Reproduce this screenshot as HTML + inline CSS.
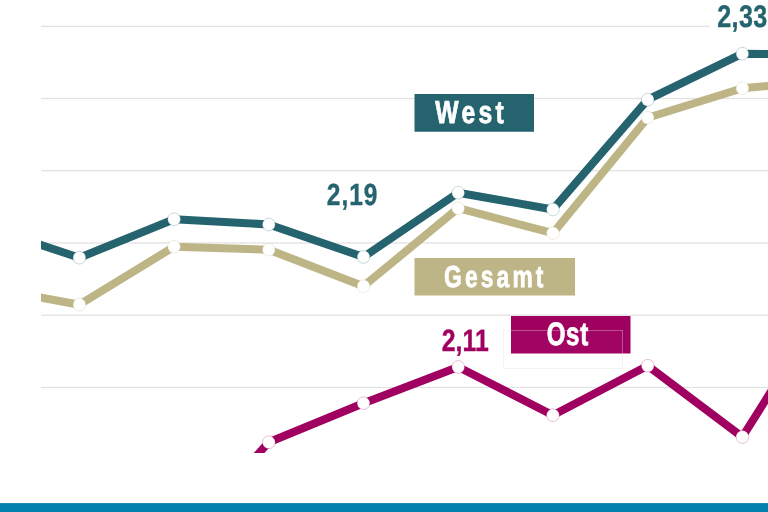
<!DOCTYPE html>
<html lang="de">
<head>
<meta charset="utf-8">
<title>Chart</title>
<style>
html,body{margin:0;padding:0;background:#fff;}
body{width:768px;height:512px;overflow:hidden;}
svg{display:block;}
text{font-family:"Liberation Sans",sans-serif;font-weight:bold;text-rendering:geometricPrecision;}
</style>
</head>
<body>
<svg width="768" height="512" viewBox="0 0 768 512">
<defs><clipPath id="plot"><rect x="41" y="0" width="727" height="453"/></clipPath></defs>
<rect width="768" height="512" fill="#fff"/>
<rect x="41" y="25.65" width="727" height="1.3" fill="#e2e2e2"/>
<rect x="41" y="97.85" width="727" height="1.3" fill="#e2e2e2"/>
<rect x="41" y="170.05" width="727" height="1.3" fill="#e2e2e2"/>
<rect x="41" y="242.35" width="727" height="1.3" fill="#e2e2e2"/>
<rect x="41" y="314.55" width="727" height="1.3" fill="#e2e2e2"/>
<rect x="41" y="386.85" width="727" height="1.3" fill="#e2e2e2"/>
<rect x="709.4" y="0" width="59" height="34" fill="#fff"/>
<g clip-path="url(#plot)" fill="none" stroke-width="8" stroke-linejoin="round">
<polyline points="-15.3,287.30 79.4,304.70 174.1,246.70 268.8,249.70 363.5,286.20 458.2,208.20 552.9,233.20 647.7,117.70 742.4,88.20 837.1,79.70" stroke="#bdb585"/>
<polyline points="-15.3,226.50 79.4,257.70 174.1,219.20 268.8,224.45 363.5,256.95 458.2,192.70 552.9,209.45 647.7,99.70 742.4,53.70 837.1,55.20" stroke="#25646f"/>
<polyline points="174.1,547.70 268.8,442.20 363.5,403.20 458.2,366.95 552.9,415.20 647.7,365.70 742.4,436.95 837.1,286.70" stroke="#a00060"/>
</g>
<g>
<circle cx="79.4" cy="304.70" r="6.35" fill="#fff" stroke="#bdb585" stroke-opacity=".42" stroke-width=".6"/>
<circle cx="174.1" cy="246.70" r="6.35" fill="#fff" stroke="#bdb585" stroke-opacity=".42" stroke-width=".6"/>
<circle cx="268.8" cy="249.70" r="6.35" fill="#fff" stroke="#bdb585" stroke-opacity=".42" stroke-width=".6"/>
<circle cx="363.5" cy="286.20" r="6.35" fill="#fff" stroke="#bdb585" stroke-opacity=".42" stroke-width=".6"/>
<circle cx="458.2" cy="208.20" r="6.35" fill="#fff" stroke="#bdb585" stroke-opacity=".42" stroke-width=".6"/>
<circle cx="552.9" cy="233.20" r="6.35" fill="#fff" stroke="#bdb585" stroke-opacity=".42" stroke-width=".6"/>
<circle cx="647.7" cy="117.70" r="6.35" fill="#fff" stroke="#bdb585" stroke-opacity=".42" stroke-width=".6"/>
<circle cx="742.4" cy="88.20" r="6.35" fill="#fff" stroke="#bdb585" stroke-opacity=".42" stroke-width=".6"/>
<circle cx="79.4" cy="257.70" r="6.35" fill="#fff" stroke="#25646f" stroke-opacity=".42" stroke-width=".6"/>
<circle cx="174.1" cy="219.20" r="6.35" fill="#fff" stroke="#25646f" stroke-opacity=".42" stroke-width=".6"/>
<circle cx="268.8" cy="224.45" r="6.35" fill="#fff" stroke="#25646f" stroke-opacity=".42" stroke-width=".6"/>
<circle cx="363.5" cy="256.95" r="6.35" fill="#fff" stroke="#25646f" stroke-opacity=".42" stroke-width=".6"/>
<circle cx="458.2" cy="192.70" r="6.35" fill="#fff" stroke="#25646f" stroke-opacity=".42" stroke-width=".6"/>
<circle cx="552.9" cy="209.45" r="6.35" fill="#fff" stroke="#25646f" stroke-opacity=".42" stroke-width=".6"/>
<circle cx="647.7" cy="99.70" r="6.35" fill="#fff" stroke="#25646f" stroke-opacity=".42" stroke-width=".6"/>
<circle cx="742.4" cy="53.70" r="6.35" fill="#fff" stroke="#25646f" stroke-opacity=".42" stroke-width=".6"/>
<circle cx="268.8" cy="442.20" r="6.35" fill="#fff" stroke="#a00060" stroke-opacity=".42" stroke-width=".6"/>
<circle cx="363.5" cy="403.20" r="6.35" fill="#fff" stroke="#a00060" stroke-opacity=".42" stroke-width=".6"/>
<circle cx="458.2" cy="366.95" r="6.35" fill="#fff" stroke="#a00060" stroke-opacity=".42" stroke-width=".6"/>
<circle cx="552.9" cy="415.20" r="6.35" fill="#fff" stroke="#a00060" stroke-opacity=".42" stroke-width=".6"/>
<circle cx="647.7" cy="365.70" r="6.35" fill="#fff" stroke="#a00060" stroke-opacity=".42" stroke-width=".6"/>
<circle cx="742.4" cy="436.95" r="6.35" fill="#fff" stroke="#a00060" stroke-opacity=".42" stroke-width=".6"/>
</g>
<rect x="414.5" y="94" width="119.5" height="37.75" fill="#25646f"/>
<rect x="414.5" y="258" width="160.5" height="37.5" fill="#bdb585"/>
<rect x="511" y="316" width="119.5" height="37.5" fill="#a00060"/>
<rect x="503.4" y="330.4" width="119.3" height="37.9" fill="#fff" fill-opacity=".015" stroke="#dedede" stroke-opacity=".6" stroke-width=".6"/>
<g opacity=".999">
<text transform="translate(435.35,123.15) scale(0.78,1)" font-size="31.64" letter-spacing="4.17" fill="#fff" stroke="#fff" stroke-width="0.8">West</text>
<text transform="translate(444.05,286.80) scale(0.75,1)" font-size="30.39" letter-spacing="4.20" fill="#fff" stroke="#fff" stroke-width="0.8">Gesamt</text>
<text transform="translate(546.65,345.30) scale(0.74,1)" font-size="32.49" letter-spacing="1.01" fill="#fff" stroke="#fff" stroke-width="0.8">Ost</text>
<text transform="translate(326.75,205.25) scale(0.8,1)" font-size="30.66" letter-spacing="1.25" fill="#25646f" stroke="#25646f" stroke-width="0.4">2,19</text>
<text transform="translate(441.75,350.55) scale(0.8,1)" font-size="31.01" letter-spacing="0.10" fill="#a00060" stroke="#a00060" stroke-width="0.4">2,11</text>
<text transform="translate(717.25,27.40) scale(0.8,1)" font-size="31.36" letter-spacing="0.52" fill="#25646f" stroke="#25646f" stroke-width="0.4">2,33</text>
</g>
<rect x="0" y="503.1" width="768" height="9" fill="#0482ae"/>
</svg>
</body>
</html>
